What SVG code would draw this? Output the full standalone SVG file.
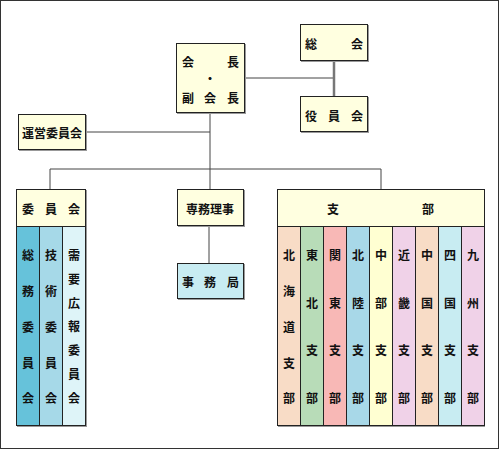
<svg xmlns="http://www.w3.org/2000/svg" width="500" height="450" viewBox="0 0 500 450">
<style>
text{font-family:"Noto Sans CJK JP","Noto Sans CJK SC",sans-serif;font-weight:bold;font-size:12px;fill:#111;text-anchor:middle;dominant-baseline:central}
.box{stroke:#222;stroke-width:1}
.sh{fill:#999}
.y{fill:#ffffe0}
.line{stroke:#444;stroke-width:1;fill:none}
.thick{stroke:#777;stroke-width:2.5;fill:none}
</style>
<rect x="0.5" y="0.5" width="498" height="448" fill="#fff" stroke="#333" stroke-width="1"/>
<g id="connectors">
<line class="line" x1="245" y1="78" x2="334" y2="78"/>
<line class="thick" x1="334" y1="61" x2="334" y2="96"/>
<line class="line" x1="86" y1="132" x2="210" y2="132"/>
<line class="line" x1="210" y1="113" x2="210" y2="189"/>
<polyline class="line" points="50,189 50,169 381,169 381,189"/>
<line class="line" x1="209" y1="226" x2="209" y2="263"/>
</g>
<g id="kaicho">
<rect class="sh" x="177" y="44" width="69" height="70"/>
<rect class="box y" x="176.5" y="43.5" width="68" height="69"/>
<text x="188" y="61">会</text><text x="233" y="61">長</text>
<text x="210" y="78">・</text>
<text x="188" y="97">副</text><text x="210" y="97">会</text><text x="233" y="97">長</text>
</g>
<g id="sokai">
<rect class="sh" x="301" y="25" width="68" height="37"/>
<rect class="box y" x="300.5" y="24.5" width="67" height="36"/>
<text x="311" y="43">総</text><text x="357" y="43">会</text>
</g>
<g id="yakuinkai">
<rect class="sh" x="301" y="97" width="68" height="36"/>
<rect class="box y" x="300.5" y="96.5" width="67" height="35"/>
<text x="311" y="115">役</text><text x="334" y="115">員</text><text x="357" y="115">会</text>
</g>
<g id="uneiiinkai">
<rect class="sh" x="19" y="115" width="68" height="36"/>
<rect class="box y" x="18.5" y="114.5" width="67" height="35"/>
<text x="52" y="132">運営委員会</text>
</g>
<g id="senmuriji">
<rect class="sh" x="178" y="190" width="67" height="37"/>
<rect class="box y" x="177.5" y="189.5" width="66" height="36"/>
<text x="210" y="208">専務理事</text>
</g>
<g id="jimukyoku">
<rect class="sh" x="178" y="264" width="67" height="36"/>
<rect class="box" fill="#c8ecf2" x="177.5" y="263.5" width="66" height="35"/>
<text x="188" y="281">事</text><text x="210" y="281">務</text><text x="233" y="281">局</text>
</g>
<g id="iinkai">
<rect class="sh" x="17" y="190" width="70" height="237"/>
<rect class="box y" x="16.5" y="189.5" width="69" height="37"/>
<text x="28" y="208">委</text><text x="51" y="208">員</text><text x="74" y="208">会</text>
<rect class="box" fill="#66c2da" x="16.5" y="226.5" width="23" height="199"/>
<rect class="box" fill="#a6d9e8" x="39.5" y="226.5" width="23" height="199"/>
<rect class="box" fill="#def4f8" x="62.5" y="226.5" width="23" height="199"/>
<text x="28"><tspan x="28" y="254">総</tspan><tspan x="28" y="290">務</tspan><tspan x="28" y="326">委</tspan><tspan x="28" y="362">員</tspan><tspan x="28" y="397">会</tspan></text>
<text x="51"><tspan x="51" y="254">技</tspan><tspan x="51" y="290">術</tspan><tspan x="51" y="326">委</tspan><tspan x="51" y="362">員</tspan><tspan x="51" y="397">会</tspan></text>
<text x="74"><tspan x="74" y="254">需</tspan><tspan x="74" y="278">要</tspan><tspan x="74" y="302">広</tspan><tspan x="74" y="325">報</tspan><tspan x="74" y="349">委</tspan><tspan x="74" y="373">員</tspan><tspan x="74" y="397">会</tspan></text>
</g>
<g id="shibu">
<rect class="sh" x="278" y="190" width="207" height="237"/>
<rect class="box y" x="277.5" y="189.5" width="207" height="37"/>
<text x="333" y="208">支</text><text x="428" y="208">部</text>
<rect class="box" fill="#f8dcc6" x="277.5" y="226.5" width="23" height="199"/>
<rect class="box" fill="#b8dcb8" x="300.5" y="226.5" width="23" height="199"/>
<rect class="box" fill="#f8b8b6" x="323.5" y="226.5" width="23" height="199"/>
<rect class="box" fill="#a8d8e8" x="346.5" y="226.5" width="23" height="199"/>
<rect class="box" fill="#ffffd2" x="369.5" y="226.5" width="23" height="199"/>
<rect class="box" fill="#f0d2e8" x="392.5" y="226.5" width="23" height="199"/>
<rect class="box" fill="#f8dcc6" x="415.5" y="226.5" width="23" height="199"/>
<rect class="box" fill="#c8ecf2" x="438.5" y="226.5" width="23" height="199"/>
<rect class="box" fill="#f0d2e8" x="461.5" y="226.5" width="23" height="199"/>
<text><tspan x="289" y="254">北</tspan><tspan x="289" y="290">海</tspan><tspan x="289" y="326">道</tspan><tspan x="289" y="362">支</tspan><tspan x="289" y="397">部</tspan></text>
<text><tspan x="312" y="254">東</tspan><tspan x="312" y="302">北</tspan><tspan x="312" y="349">支</tspan><tspan x="312" y="397">部</tspan></text>
<text><tspan x="335" y="254">関</tspan><tspan x="335" y="302">東</tspan><tspan x="335" y="349">支</tspan><tspan x="335" y="397">部</tspan></text>
<text><tspan x="358" y="254">北</tspan><tspan x="358" y="302">陸</tspan><tspan x="358" y="349">支</tspan><tspan x="358" y="397">部</tspan></text>
<text><tspan x="381" y="254">中</tspan><tspan x="381" y="302">部</tspan><tspan x="381" y="349">支</tspan><tspan x="381" y="397">部</tspan></text>
<text><tspan x="404" y="254">近</tspan><tspan x="404" y="302">畿</tspan><tspan x="404" y="349">支</tspan><tspan x="404" y="397">部</tspan></text>
<text><tspan x="427" y="254">中</tspan><tspan x="427" y="302">国</tspan><tspan x="427" y="349">支</tspan><tspan x="427" y="397">部</tspan></text>
<text><tspan x="450" y="254">四</tspan><tspan x="450" y="302">国</tspan><tspan x="450" y="349">支</tspan><tspan x="450" y="397">部</tspan></text>
<text><tspan x="473" y="254">九</tspan><tspan x="473" y="302">州</tspan><tspan x="473" y="349">支</tspan><tspan x="473" y="397">部</tspan></text>
</g>
</svg>
